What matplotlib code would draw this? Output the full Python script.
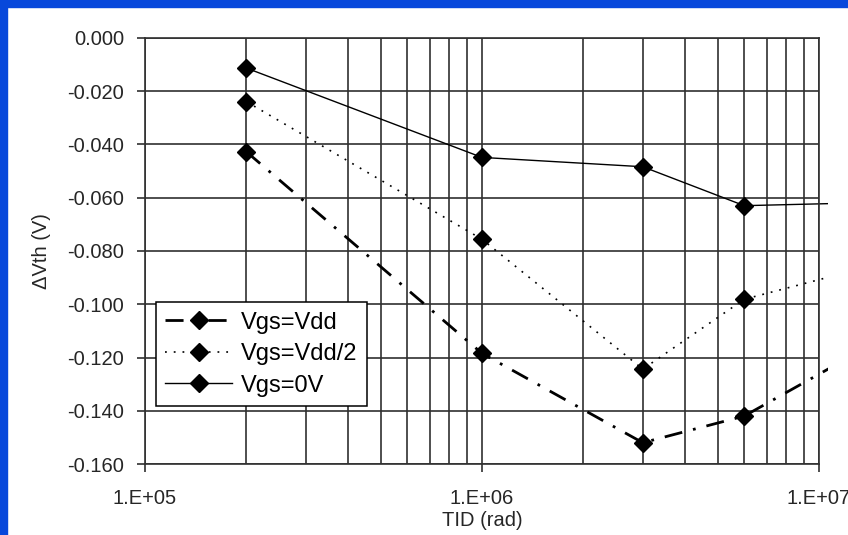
import math
import matplotlib
matplotlib.use("Agg")
import matplotlib.pyplot as plt
from matplotlib.patches import Rectangle
from matplotlib.ticker import LogLocator, FixedLocator, FuncFormatter

plt.rcParams['font.family'] = ['Liberation Sans', 'DejaVu Sans']
plt.rcParams['axes.unicode_minus'] = False
plt.rcParams['lines.scale_dashes'] = False

# data
tid = [2e5, 1e6, 3e6, 6e6, 2e7]
vgs_vdd = [-0.0428, -0.1184, -0.1519, -0.1419, -0.1049]
vgs_vdd2 = [-0.0240, -0.0756, -0.1243, -0.0981, -0.0808]
vgs_0v = [-0.0114, -0.0449, -0.0484, -0.0630, -0.0614]
labels = ['Vgs=Vdd', 'Vgs=Vdd/2', 'Vgs=0V']

fig = plt.figure(figsize=(8.48, 5.35), dpi=100)
fig.patch.set_facecolor('white')
# slide background bits (blue edges)
fig.patches.append(Rectangle((0, 0), 7 / 848, 1, transform=fig.transFigure,
                             color='#0748db', zorder=0))
fig.patches.append(Rectangle((0, 1 - 7 / 535), 1, 7 / 535, transform=fig.transFigure,
                             color='#0748db', zorder=0))

ax = fig.add_axes([145 / 848, 1 - 464.3 / 535, 674 / 848, 426.6 / 535])
ax.set_xscale('log')
ax.set_xlim(1e5, 1e7)
ax.set_ylim(-0.16, 0.0)

gc = '#303030'
ax.xaxis.set_major_locator(FixedLocator([1e5, 1e6, 1e7]))
ax.xaxis.set_minor_locator(LogLocator(base=10, subs=range(2, 10)))
ax.xaxis.set_major_formatter(FuncFormatter(lambda v, p: '1.E+%02d' % round(math.log10(v))))
ax.xaxis.set_minor_formatter(FuncFormatter(lambda v, p: ''))
ax.set_yticks([-0.16 + 0.02 * i for i in range(9)])
ax.yaxis.set_major_formatter(FuncFormatter(lambda v, p: '%.3f' % (v if abs(v) > 1e-9 else 0.0)))

ax.grid(True, which='major', color=gc, linewidth=1.2)
ax.grid(True, which='minor', axis='x', color=gc, linewidth=1.2)
ax.set_axisbelow(True)
for s in ax.spines.values():
    s.set_color(gc)
    s.set_linewidth(1.2)

ax.tick_params(axis='both', which='major', direction='out', length=6, width=1.2,
               color=gc, labelsize=14.5, labelcolor='#262626')
ax.tick_params(axis='x', which='minor', length=0)
ax.tick_params(axis='x', which='major', pad=12)
ax.tick_params(axis='y', which='major', pad=9)
ax.tick_params(top=False, right=False)

l1, = ax.plot(tid, vgs_vdd, color='black', linewidth=2.0, dashes=(13, 8, 2, 8),
              marker='D', markersize=9, label=labels[0])
l2, = ax.plot(tid, vgs_vdd2, color='black', linewidth=1.2, dashes=(1.3, 5),
              marker='D', markersize=9, label=labels[1])
l3, = ax.plot(tid, vgs_0v, color='black', linewidth=1.0, linestyle='-',
              marker='D', markersize=9, label=labels[2])

# lines run a little past the right frame, like the original
clip = Rectangle((0, 0), 683 / 674, 1, transform=ax.transAxes)
for ln in (l1, l2, l3):
    ln.set_clip_path(clip)

ax.set_xlabel('TID (rad)', fontsize=14.5, color='#262626', labelpad=2)
ax.set_ylabel('ΔVth (V)', fontsize=14.5, color='#262626', labelpad=12)

leg = ax.legend(loc='lower left', bbox_to_anchor=(11 / 674, (464.3 - 406) / 426.6),
                borderaxespad=0, fontsize=17, handlelength=2.8, handletextpad=0.4,
                labelspacing=0.4, borderpad=0.4, fancybox=False, framealpha=1,
                edgecolor='black')
leg.get_frame().set_linewidth(1.1)

fig.savefig('out.png', dpi=100)
